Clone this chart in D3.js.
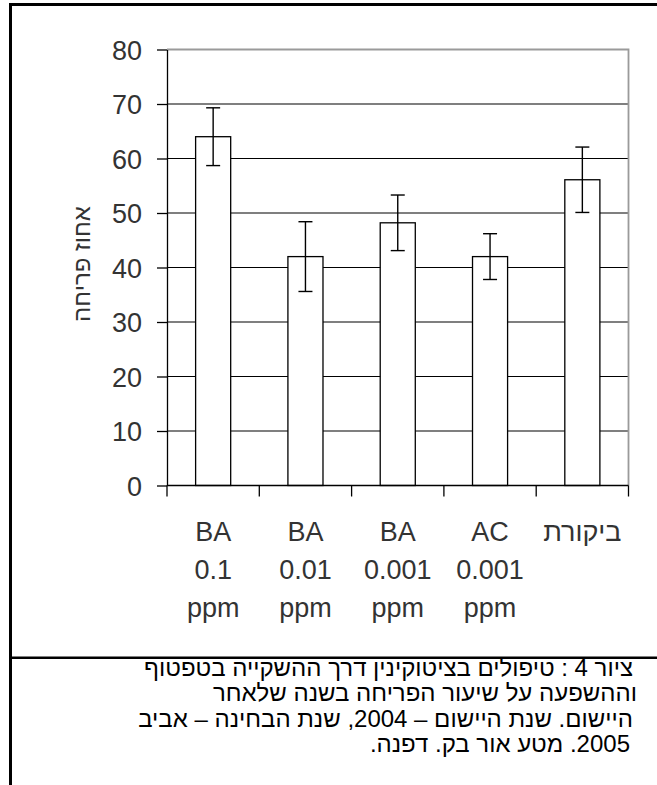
<!DOCTYPE html>
<html>
<head>
<meta charset="utf-8">
<script src="https://cdn.jsdelivr.net/npm/d3@7"></script>
<style>
  html, body { margin: 0; padding: 0; background: #fff; }
  svg { display: block; }
</style>
</head>
<body>
<script>
// Flowering percentage by cytokinin treatment (mean ± error)
const categories = [
  ["BA", "0.1", "ppm"],
  ["BA", "0.01", "ppm"],
  ["BA", "0.001", "ppm"],
  ["AC", "0.001", "ppm"],
  ["ביקורת"]
];
const values = [64, 42, 48.2, 42, 56.1];
const errors = [5.3, 6.4, 5.1, 4.2, 6.0];
const yTicks = [0, 10, 20, 30, 40, 50, 60, 70, 80];
const yTitle = "אחוז פריחה";
const captionLines = [
  "ציור 4 : טיפולים בציטוקינין דרך ההשקייה בטפטוף",
  "וההשפעה על שיעור הפריחה בשנה שלאחר",
  "היישום. שנת היישום – 2004, שנת הבחינה – אביב",
  "2005. מטע אור בק. דפנה."
];

// Layout
const W = 657, H = 785;
const plot = { left: 167, right: 628.5, top: 49.5, bottom: 485.5 };
const captionRight = [633, 637, 633, 630];
const labelFont = "'Liberation Sans', Arial, sans-serif";

const svg = d3.select("body").append("svg")
  .attr("width", W).attr("height", H);

svg.append("rect").attr("width", W).attr("height", H).attr("fill", "#fff");

// Page frame: top and left rules, plus the caption separator
svg.append("rect").attr("x", 9).attr("y", 3).attr("width", W - 9).attr("height", 3).attr("fill", "#000");
svg.append("rect").attr("x", 9).attr("y", 3).attr("width", 3).attr("height", H - 3).attr("fill", "#000");
svg.append("rect").attr("x", 9).attr("y", 656.5).attr("width", W - 9).attr("height", 2.5).attr("fill", "#000");

const x = d3.scaleBand()
  .domain(d3.range(categories.length))
  .range([plot.left, plot.right])
  .paddingInner(0).paddingOuter(0);

const y = d3.scaleLinear().domain([0, 80]).range([plot.bottom, plot.top]);

const barW = x.bandwidth() * 0.38;

// Horizontal gridlines (black) and grey plot-area border
svg.append("g").selectAll("line")
  .data(yTicks.filter(t => t > 0 && t < 80))
  .join("line")
  .attr("x1", plot.left).attr("x2", plot.right)
  .attr("y1", d => y(d)).attr("y2", d => y(d))
  .attr("stroke", "#000").attr("stroke-width", 1.2);

svg.append("path")
  .attr("d", `M${plot.left},${y(80)}H${plot.right}V${plot.bottom}`)
  .attr("fill", "none").attr("stroke", "#9a9a9a").attr("stroke-width", 1.8);

// Bars
svg.append("g").selectAll("rect")
  .data(values)
  .join("rect")
  .attr("x", (d, i) => x(i) + (x.bandwidth() - barW) / 2)
  .attr("y", d => y(d))
  .attr("width", barW)
  .attr("height", d => y(0) - y(d))
  .attr("fill", "#fff").attr("stroke", "#000").attr("stroke-width", 1.3);

// Error bars
const eb = svg.append("g").attr("stroke", "#000").attr("stroke-width", 1.4);
values.forEach((v, i) => {
  const cx = x(i) + x.bandwidth() / 2;
  const hi = y(v + errors[i]), lo = y(v - errors[i]);
  eb.append("line").attr("x1", cx).attr("x2", cx).attr("y1", hi).attr("y2", lo);
  eb.append("line").attr("x1", cx - 7).attr("x2", cx + 7).attr("y1", hi).attr("y2", hi);
  eb.append("line").attr("x1", cx - 7).attr("x2", cx + 7).attr("y1", lo).attr("y2", lo);
});

// Y axis
const yAxis = svg.append("g")
  .attr("transform", `translate(${plot.left},0)`)
  .call(d3.axisLeft(y).tickValues(yTicks).tickSize(10).tickSizeOuter(0).tickPadding(15));
yAxis.select(".domain").attr("stroke", "#000").attr("stroke-width", 1.3);
yAxis.selectAll(".tick line").attr("stroke", "#000").attr("stroke-width", 1.3);
yAxis.selectAll(".tick text")
  .attr("font-family", labelFont).attr("font-size", 27).attr("fill", "#333")
  .attr("dy", "0.36em");

// X axis line and category boundary ticks
svg.append("line")
  .attr("x1", plot.left).attr("x2", plot.right)
  .attr("y1", plot.bottom).attr("y2", plot.bottom)
  .attr("stroke", "#000").attr("stroke-width", 1.3);
svg.append("g").selectAll("line")
  .data(d3.range(categories.length + 1))
  .join("line")
  .attr("x1", i => plot.left + i * x.step()).attr("x2", i => plot.left + i * x.step())
  .attr("y1", plot.bottom).attr("y2", plot.bottom + 11)
  .attr("stroke", "#000").attr("stroke-width", 1.3);

// Category labels (one line per row)
svg.append("g").selectAll("text")
  .data(categories)
  .join("text")
  .attr("font-family", labelFont).attr("font-size", 27).attr("fill", "#333")
  .attr("text-anchor", "middle")
  .each(function (lines, i) {
    const cx = x(i) + x.bandwidth() / 2;
    d3.select(this).selectAll("tspan")
      .data(lines)
      .join("tspan")
      .attr("x", cx)
      .attr("y", (d, k) => 541 + k * 38)
      .text(d => d);
  });

// Y axis title
svg.append("text")
  .attr("transform", `translate(90,264) rotate(-90)`)
  .attr("text-anchor", "middle")
  .attr("direction", "rtl")
  .attr("font-family", labelFont).attr("font-size", 24).attr("fill", "#333")
  .text(yTitle);

// Caption
svg.append("g").selectAll("text")
  .data(captionLines)
  .join("text")
  .attr("x", (d, i) => captionRight[i])
  .attr("y", (d, i) => 676 + i * 25.3)
  .attr("direction", "rtl")
  .attr("text-anchor", "start")
  .attr("font-family", labelFont).attr("font-size", 24).attr("fill", "#000")
  .text(d => d);
</script>
</body>
</html>
